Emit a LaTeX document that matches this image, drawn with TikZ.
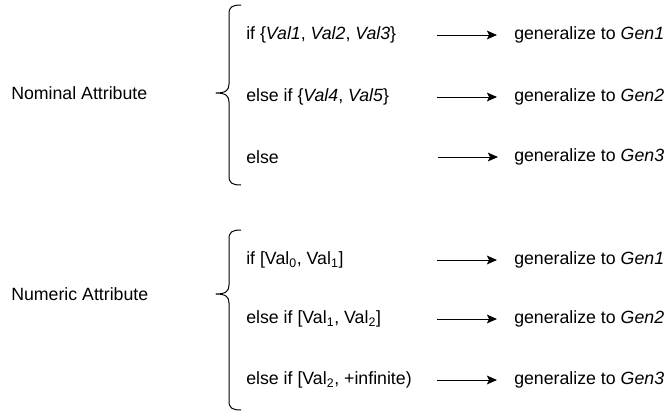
\documentclass[tikz,border=0pt]{standalone}
\usepackage{fontspec}
\setmainfont{Liberation Sans}
\usetikzlibrary{arrows.meta}
\begin{document}
\begin{tikzpicture}[x=0.75pt,y=-0.75pt,
  lbl/.style={anchor=west,inner sep=0pt,font=\fontsize{13.3}{15}\selectfont},
  bracepath/.style={line width=0.75pt,line join=round},
  genarrow/.style={line width=0.75pt,-{Stealth[length=7.5pt,width=6.5pt,inset=1.5pt]}}]
\useasboundingbox (0,0) rectangle (671,414);
% Nominal block
\node[lbl] (nom) at (11,93) {Nominal Attribute};
\draw[bracepath] (241,5) .. controls (232,5) and (229,7) .. (229,14) -- (229,84)
  .. controls (229,90) and (226,93) .. (216,93)
  .. controls (226,93) and (229,96) .. (229,102) -- (229,176)
  .. controls (229,183) and (232,185) .. (241,185);
\node[lbl] (n1) at (246,35) {if \{\textit{Val1}, \textit{Val2}, \textit{Val3}\}};
\node[lbl] (n2) at (246,97) {else if \{\textit{Val4}, \textit{Val5}\}};
\node[lbl] (n3) at (246,157) {else};
\node[lbl] (g1) at (514,35) {generalize to \textit{Gen1}};
\node[lbl] (g2) at (514,97) {generalize to \textit{Gen2}};
\node[lbl] (g3) at (514,157) {generalize to \textit{Gen3}};
\coordinate (a1s) at (437,35); \coordinate (a1e) at (497,35);
\coordinate (a2s) at (437,97); \coordinate (a2e) at (497,97);
\coordinate (a3s) at (438,157); \coordinate (a3e) at (498,157);
\draw[genarrow] (a1s) -- (a1e);
\draw[genarrow] (a2s) -- (a2e);
\draw[genarrow] (a3s) -- (a3e);
% Numeric block
\node[lbl] (num) at (11,294) {Numeric Attribute};
\draw[bracepath] (241,230) .. controls (232,230) and (229,232) .. (229,239) -- (229,285)
  .. controls (229,291) and (226,294) .. (216,294)
  .. controls (226,294) and (229,297) .. (229,303) -- (229,401)
  .. controls (229,408) and (232,410) .. (241,410);
\node[lbl] (m1) at (246,260) {if [Val\textsubscript{0}, Val\textsubscript{1}]};
\node[lbl] (m2) at (246,319) {else if [Val\textsubscript{1}, Val\textsubscript{2}]};
\node[lbl] (m3) at (246,380) {else if [Val\textsubscript{2}, +infinite)};
\node[lbl] (h1) at (514,260) {generalize to \textit{Gen1}};
\node[lbl] (h2) at (514,319) {generalize to \textit{Gen2}};
\node[lbl] (h3) at (514,380) {generalize to \textit{Gen3}};
\coordinate (b1s) at (437,260); \coordinate (b1e) at (497,260);
\coordinate (b2s) at (437,319); \coordinate (b2e) at (497,319);
\coordinate (b3s) at (437,380); \coordinate (b3e) at (497,380);
\draw[genarrow] (b1s) -- (b1e);
\draw[genarrow] (b2s) -- (b2e);
\draw[genarrow] (b3s) -- (b3e);
\end{tikzpicture}
\end{document}
